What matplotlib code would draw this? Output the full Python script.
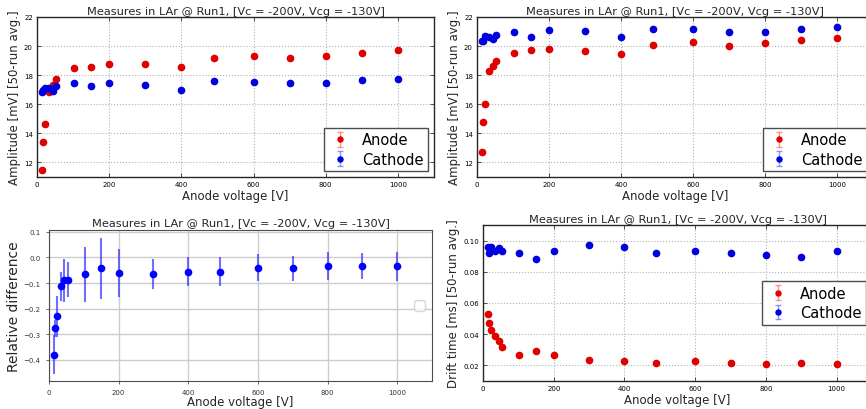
import numpy as np
import matplotlib.pyplot as plt

# Anode voltages [V]
volts = [13, 18, 23, 34, 44, 54, 103, 150, 200, 300, 400, 490, 600, 700, 800, 900, 1000]

# top-left: amplitudes [mV]
amp1_anode = [11.45, 13.4, 14.62, 16.84, 17.34, 17.74, 18.46, 18.58, 18.76, 18.76,
              18.57, 19.15, 19.3, 19.15, 19.35, 19.54, 19.7]
amp1_cathode = [16.82, 17.0, 17.1, 17.1, 16.9, 17.24, 17.43, 17.28, 17.48, 17.34,
                17.0, 17.63, 17.53, 17.43, 17.43, 17.68, 17.72]
amp1_err = [0.08, 0.08, 0.08, 0.08, 0.08, 0.08, 0.08, 0.08, 0.08, 0.08,
            0.08, 0.08, 0.08, 0.08, 0.08, 0.08, 0.08]

# top-right: amplitudes [mV]
amp2_anode = [12.72, 14.78, 16.0, 18.26, 18.66, 18.97, 19.5, 19.73, 19.8, 19.68,
              19.45, 20.08, 20.25, 20.03, 20.18, 20.42, 20.58]
amp2_cathode = [20.38, 20.38, 20.72, 20.63, 20.5, 20.77, 20.97, 20.62, 21.1, 21.06,
                20.61, 21.2, 21.15, 20.97, 20.97, 21.15, 21.33]

# bottom-left: relative difference
reldiff = [-0.380, -0.277, -0.229, -0.113, -0.089, -0.087, -0.066, -0.043, -0.060, -0.065,
           -0.055, -0.055, -0.040, -0.043, -0.033, -0.033, -0.035]
reldiff_err = [0.076, 0.033, 0.080, 0.058, 0.084, 0.069, 0.106, 0.119, 0.094, 0.060,
               0.055, 0.058, 0.053, 0.048, 0.054, 0.052, 0.055]

# bottom-right: drift times [ms]
drift_anode = [0.0529, 0.0470, 0.0429, 0.0388, 0.0358, 0.0316, 0.0268, 0.0290, 0.0268, 0.0236,
               0.0228, 0.0217, 0.0228, 0.0217, 0.0209, 0.0217, 0.0209]
drift_cathode = [0.0961, 0.0921, 0.0961, 0.0934, 0.0951, 0.0934, 0.0921, 0.0880, 0.0934, 0.0970,
                 0.0961, 0.0921, 0.0934, 0.0921, 0.0910, 0.0895, 0.0934]
drift_err = [0.0004, 0.0004, 0.0004, 0.0004, 0.0004, 0.0004, 0.0004, 0.0004, 0.0004, 0.0004,
             0.0004, 0.0004, 0.0004, 0.0004, 0.0004, 0.0004, 0.0004]

title = 'Measures in LAr @ Run1, [Vc = -200V, Vcg = -130V]'
W, H = 866, 410


def box(l, r, t, b):
    return [l / W, 1 - b / H, (r - l) / W, (b - t) / H]


def classic_panel(ax, y_a, y_c, err, ylabel, ylim, yticks, legloc):
    ax.errorbar(volts, y_a, yerr=err, fmt='o', color='#e00000', mec='#e00000', ms=4.5,
                ecolor=(1, 0.3, 0.3, 0.6), elinewidth=1, capsize=2, label='Anode')
    ax.errorbar(volts, y_c, yerr=err, fmt='o', color='#0000e0', mec='#0000e0', ms=4.5,
                ecolor=(0.3, 0.3, 1, 0.6), elinewidth=1, capsize=2, label='Cathode')
    ax.set_xlim(0, 1100)
    ax.set_ylim(*ylim)
    ax.set_xticks([0, 200, 400, 600, 800, 1000])
    ax.set_yticks(yticks)
    ax.grid(True, color='0.7', linestyle=':', linewidth=0.8)
    for s in ax.spines.values():
        s.set_color('0.15')
        s.set_linewidth(1)
    ax.tick_params(labelsize=5, length=3, width=0.6, color='0.2', direction='in',
                   top=True, right=True, pad=3)
    ax.set_title(title, fontsize=8.2, color='0.15', pad=2)
    ax.set_xlabel('Anode voltage [V]', fontsize=8.5, color='0.15', labelpad=1)
    ax.set_ylabel(ylabel, fontsize=8.5, color='0.15', labelpad=2)
    leg = ax.legend(loc=legloc, fontsize=10.5, numpoints=1, fancybox=False,
                    framealpha=1, edgecolor='0.3', handlelength=1.5, handletextpad=0.8,
                    borderpad=0.3, labelspacing=0.3, borderaxespad=0.4, markerscale=0.8)
    leg.get_frame().set_linewidth(1)


fig = plt.figure(figsize=(W / 100, H / 100), dpi=100)

ax1 = fig.add_axes(box(37, 434, 18, 178))
classic_panel(ax1, amp1_anode, amp1_cathode, amp1_err,
              'Amplitude [mV] [50-run avg.]', (11, 22), [12, 14, 16, 18, 20, 22], 'lower right')

ax2 = fig.add_axes(box(477, 873, 18, 178))
classic_panel(ax2, amp2_anode, amp2_cathode, amp1_err,
              'Amplitude [mV] [50-run avg.]', (11, 22), [12, 14, 16, 18, 20, 22], 'lower right')

ax4 = fig.add_axes(box(483, 872, 226, 382))
classic_panel(ax4, drift_anode, drift_cathode, drift_err,
              'Drift time [ms] [50-run avg.]', (0.01, 0.11), [0.02, 0.04, 0.06, 0.08, 0.10], 'center right')
ax4.yaxis.set_major_formatter(plt.FormatStrFormatter('%.2f'))

# bottom-left, newer default style
ax3 = fig.add_axes(box(49, 432, 231, 382))
ax3.errorbar(volts, reldiff, yerr=reldiff_err, fmt='o', color='#0000ff', ms=4.5,
             ecolor=(0.2, 0.2, 1, 0.7), elinewidth=1.5)
ax3.set_xlim(0, 1100)
ax3.set_ylim(-0.482, 0.107)
ax3.set_xticks([0, 200, 400, 600, 800, 1000])
ax3.set_yticks([-0.4, -0.3, -0.2, -0.1, 0.0, 0.1])
ax3.grid(True, color='0.8', linewidth=1)
ax3.set_axisbelow(True)
for s in ax3.spines.values():
    s.set_color('0.3')
    s.set_linewidth(0.8)
ax3.tick_params(labelsize=5, length=2.5, width=0.6, color='0.3', labelcolor='0.2')
ax3.set_title(title, fontsize=8.2, color='0.15', pad=3)
ax3.set_xlabel('Anode voltage [V]', fontsize=8.5, color='0.15', labelpad=0)
ax3.set_ylabel('Relative difference', fontsize=10, color='0.15', labelpad=2)
ax3.legend(handles=[], labels=[], loc='center right')

fig.savefig('out.png', dpi=100)
